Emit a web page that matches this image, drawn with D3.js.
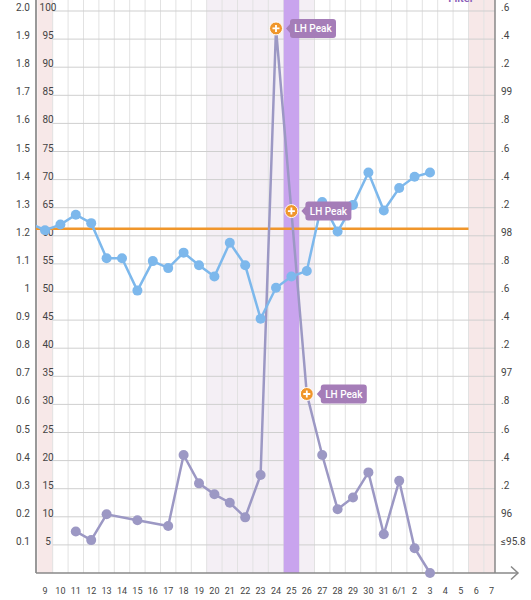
<!DOCTYPE html>
<html>
<head>
<meta charset="utf-8" />
<script src="https://cdn.jsdelivr.net/npm/d3@7"></script>
<style>
  body { margin: 0; background: #fff; }
  svg text { font-family: Roboto, "Helvetica Neue", Arial, sans-serif; }
</style>
</head>
<body>
<div id="chart"></div>
<script>

// cycle days shown on the x axis
var days = ["9","10","11","12","13","14","15","16","17","18","19","20","21","22","23","24","25","26",
            "27","28","29","30","31","6/1","2","3","4","5","6","7"];

// basal body temperature (°F), one per day, null = no reading
var bbt = [98.04, 98.08, 98.15, 98.09, 97.84, 97.84, 97.61, 97.82, 97.77, 97.88, 97.79, 97.71, 97.95,
           97.79, 97.41, 97.63, 97.71, 97.75, 98.24, 98.03, 98.22, 98.45, 98.18, 98.34, 98.42, 98.45,
           null, null, null, null];
var bbtBefore = 98.09;   // reading of the day before the first visible day

// LH test ratio, null = no test
var lh = [null, null, 0.148, 0.117, 0.209, null, 0.188, null, 0.167, 0.42, 0.319, 0.28, 0.25, 0.198,
          0.349, 1.938, 1.288, 0.637, 0.42, 0.227, 0.269, 0.358, 0.138, 0.328, 0.088, 0.0,
          null, null, null, null];

var lhPeakDays = ["24", "25", "26"];
var periodDays = ["9", "6", "7"];
var fertileDays = ["20", "21", "22", "23", "24", "25", "26"];
var ovulationDay = "25";
var coverline = 98.05;

// tick labels
var lhTicks = [0.1,0.2,0.3,0.4,0.5,0.6,0.7,0.8,0.9,1.0,1.1,1.2,1.3,1.4,1.5,1.6,1.7,1.8,1.9,2.0];
var lhLabels = ["0.1","0.2","0.3","0.4","0.5","0.6","0.7","0.8","0.9","1","1.1","1.2","1.3","1.4",
                "1.5","1.6","1.7","1.8","1.9","2.0"];
var pctLabels = ["5","10","15","20","25","30","35","40","45","50","55","60","65","70","75","80",
                 "85","90","95","100"];
var tempLabels = ["≤95.8","96",".2",".4",".6",".8","97",".2",".4",".6",".8","98",".2",".4",".6",
                  ".8","99",".2",".4",".6"];

var width = 531, height = 600;
var axisLeft = 36, axisRight = 495, baseY = 573;

var svg = d3.select("#chart").append("svg")
  .attr("width", width)
  .attr("height", height);

// x: day index -> pixel (column boundaries)
var x = d3.scaleLinear().domain([0, days.length]).range([37.3, 37.3 + 15.4 * days.length]);
function cx(i) { return x(i + 0.5); }

var y = d3.scaleLinear().domain([0, 2]).range([baseY, 11]);
var yT = d3.scaleLinear().domain([95.6, 99.6]).range([baseY, 11]);

function band(dayList, color) {
  svg.append("g").selectAll("rect")
    .data(dayList).enter()
    .append("rect")
    .attr("x", function (d) { return x(days.indexOf(d)); })
    .attr("y", 0)
    .attr("width", function (d) { return Math.min(x(days.indexOf(d) + 1), axisRight) - x(days.indexOf(d)); })
    .attr("height", baseY)
    .attr("fill", color);
}

// light bands
band(periodDays, "#f7e8e8");
band(fertileDays, "#f4eff5");

// vertical grid
svg.append("g").selectAll("line")
  .data(d3.range(1, days.length)).enter()
  .append("line")
  .attr("x1", function (d) { return x(d); })
  .attr("x2", function (d) { return x(d); })
  .attr("y1", 0).attr("y2", baseY)
  .attr("stroke", "#e2e2e2").attr("stroke-width", 1);

// horizontal grid
svg.append("g").selectAll("line")
  .data(lhTicks).enter()
  .append("line")
  .attr("x1", x(1)).attr("x2", axisRight)
  .attr("y1", function (d) { return y(d); })
  .attr("y2", function (d) { return y(d); })
  .attr("stroke", "#cfcfcf").attr("stroke-width", 1);

// ovulation day
band([ovulationDay], "#c9a4ee");

// axes
svg.append("line").attr("x1", axisLeft).attr("x2", axisLeft).attr("y1", 0).attr("y2", baseY)
  .attr("stroke", "#777").attr("stroke-width", 1.5);
svg.append("line").attr("x1", axisRight).attr("x2", axisRight).attr("y1", 0).attr("y2", baseY)
  .attr("stroke", "#888").attr("stroke-width", 1.5);
svg.append("line").attr("x1", axisLeft).attr("x2", 518).attr("y1", baseY).attr("y2", baseY)
  .attr("stroke", "#888").attr("stroke-width", 1.5);
svg.append("path").attr("d", "M511,566.5L518,573L511,579.5")
  .attr("fill", "none").attr("stroke", "#888").attr("stroke-width", 1.5);

// tick labels
svg.append("g").selectAll("text")
  .data(lhTicks).enter()
  .append("text")
  .attr("x", 30).attr("y", function (d) { return y(d); })
  .attr("text-anchor", "end")
  .attr("font-size", 10).attr("fill", "#444")
  .text(function (d, i) { return lhLabels[i]; });

svg.append("g").selectAll("text")
  .data(lhTicks).enter()
  .append("text")
  .attr("x", 48).attr("y", function (d) { return y(d); })
  .attr("text-anchor", "middle")
  .attr("font-size", 10).attr("fill", "#444")
  .text(function (d, i) { return pctLabels[i]; });

svg.append("g").selectAll("text")
  .data(lhTicks).enter()
  .append("text")
  .attr("x", 501).attr("y", function (d) { return y(d); })
  .attr("font-size", 10).attr("fill", "#444")
  .text(function (d, i) { return tempLabels[i]; });

svg.append("g").selectAll("text")
  .data(days).enter()
  .append("text")
  .attr("x", function (d, i) { return cx(i); })
  .attr("y", 594)
  .attr("text-anchor", "middle")
  .attr("font-size", 9).attr("fill", "#444")
  .text(function (d) { return d; });

svg.append("text")
  .attr("x", 461).attr("y", 2)
  .attr("text-anchor", "middle")
  .attr("font-size", 11).attr("font-weight", 600).attr("fill", "#8a5bb8")
  .text("Filter");

// coverline
svg.append("line")
  .attr("x1", axisLeft).attr("x2", x(days.indexOf("6")))
  .attr("y1", yT(coverline)).attr("y2", yT(coverline))
  .attr("stroke", "#f0962b").attr("stroke-width", 2.5);

svg.append("clipPath").attr("id", "plot")
  .append("rect").attr("x", axisLeft).attr("y", 0).attr("width", axisRight - axisLeft).attr("height", baseY);

var line = d3.line().x(function (d) { return d.x; }).y(function (d) { return d.y; });

// LH series
var lhPts = [];
lh.forEach(function (v, i) { if (v != null) lhPts.push({ x: cx(i), y: y(v), day: days[i] }); });
var lhColor = "#9c98c4";

svg.append("path").datum(lhPts)
  .attr("d", line)
  .attr("fill", "none").attr("stroke", lhColor).attr("stroke-width", 2.5);
svg.append("g").selectAll("circle")
  .data(lhPts.filter(function (d) { return lhPeakDays.indexOf(d.day) < 0; })).enter()
  .append("circle")
  .attr("cx", function (d) { return d.x; }).attr("cy", function (d) { return d.y; })
  .attr("r", 5).attr("fill", lhColor);

// temperature series
var tPts = [{ x: cx(-1), y: yT(bbtBefore) }];
bbt.forEach(function (v, i) { if (v != null) tPts.push({ x: cx(i), y: yT(v) }); });
var tColor = "#7db8ec";

svg.append("path").datum(tPts)
  .attr("d", line)
  .attr("clip-path", "url(#plot)")
  .attr("fill", "none").attr("stroke", tColor).attr("stroke-width", 2.5);
svg.append("g").selectAll("circle")
  .data(tPts.slice(1)).enter()
  .append("circle")
  .attr("cx", function (d) { return d.x; }).attr("cy", function (d) { return d.y; })
  .attr("r", 5).attr("fill", tColor);

// LH peak markers
var peaks = svg.append("g").selectAll("g")
  .data(lhPts.filter(function (d) { return lhPeakDays.indexOf(d.day) >= 0; })).enter()
  .append("g")
  .attr("transform", function (d) { return "translate(" + d.x + "," + d.y + ")"; });

peaks.append("path")
  .attr("d", "M10,0L14,-4.5L14,-6.5Q14,-9.5 17,-9.5L57,-9.5Q60,-9.5 60,-6.5L60,6.5Q60,9.5 57,9.5L17,9.5Q14,9.5 14,6.5L14,4.5Z")
  .attr("fill", "#a57db8");
peaks.append("text")
  .attr("x", 37).attr("y", 3.5)
  .attr("text-anchor", "middle")
  .attr("font-size", 10).attr("font-weight", 500).attr("fill", "#fff")
  .text("LH Peak");
peaks.append("circle")
  .attr("r", 6.5).attr("fill", "#f0962b").attr("stroke", "#fff").attr("stroke-width", 1);
peaks.append("path")
  .attr("d", "M-3.5,0H3.5M0,-3.5V3.5")
  .attr("stroke", "#fff").attr("stroke-width", 1.8);

</script>
</body>
</html>
